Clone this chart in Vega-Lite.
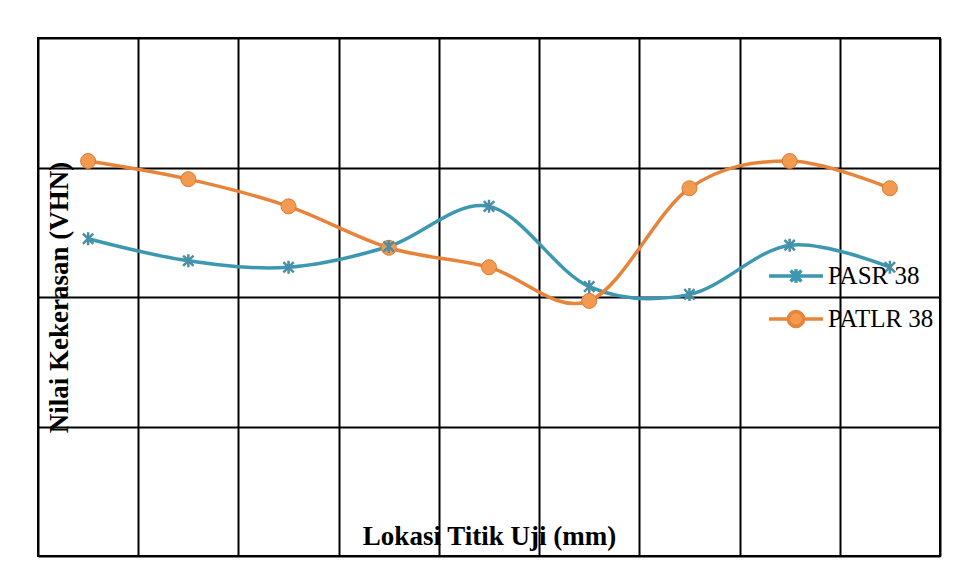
{
  "$schema": "https://vega.github.io/schema/vega-lite/v6.json",
  "width": 902,
  "height": 518,
  "autosize": "none",
  "padding": {"left": 38, "top": 38, "right": 17, "bottom": 25},
  "background": "white",
  "config": {
    "view": {"stroke": "black", "strokeWidth": 2},
    "font": "Liberation Serif"
  },
  "data": {
    "values": [
      {"titik": 1, "series": "PASR 38", "vhn": 2.45},
      {"titik": 2, "series": "PASR 38", "vhn": 2.28},
      {"titik": 3, "series": "PASR 38", "vhn": 2.23},
      {"titik": 4, "series": "PASR 38", "vhn": 2.39},
      {"titik": 5, "series": "PASR 38", "vhn": 2.70},
      {"titik": 6, "series": "PASR 38", "vhn": 2.08},
      {"titik": 7, "series": "PASR 38", "vhn": 2.02},
      {"titik": 8, "series": "PASR 38", "vhn": 2.40},
      {"titik": 9, "series": "PASR 38", "vhn": 2.23},
      {"titik": 1, "series": "PATLR 38", "vhn": 3.05},
      {"titik": 2, "series": "PATLR 38", "vhn": 2.91},
      {"titik": 3, "series": "PATLR 38", "vhn": 2.70},
      {"titik": 4, "series": "PATLR 38", "vhn": 2.38},
      {"titik": 5, "series": "PATLR 38", "vhn": 2.23},
      {"titik": 6, "series": "PATLR 38", "vhn": 1.97},
      {"titik": 7, "series": "PATLR 38", "vhn": 2.84},
      {"titik": 8, "series": "PATLR 38", "vhn": 3.05},
      {"titik": 9, "series": "PATLR 38", "vhn": 2.84}
    ]
  },
  "encoding": {
    "x": {
      "field": "titik", "type": "quantitative",
      "scale": {"domain": [0.5, 9.5], "nice": false, "zero": false},
      "axis": {
        "values": [0.5, 1.5, 2.5, 3.5, 4.5, 5.5, 6.5, 7.5, 8.5, 9.5],
        "labels": false, "ticks": false, "domain": false,
        "grid": true, "gridColor": "black", "gridWidth": 2, "gridOpacity": 1,
        "title": "Lokasi Titik Uji (mm)",
        "titleFont": "Liberation Serif", "titleFontSize": 27, "titleFontWeight": "bold",
        "titleColor": "black", "titleBaseline": "alphabetic", "titleY": -12, "titleAnchor": "middle"
      }
    },
    "y": {
      "field": "vhn", "type": "quantitative",
      "scale": {"domain": [0, 4], "nice": false, "zero": false},
      "axis": {
        "values": [0, 1, 2, 3, 4],
        "labels": false, "ticks": false, "domain": false,
        "grid": true, "gridColor": "black", "gridWidth": 2, "gridOpacity": 1,
        "title": "Nilai Kekerasan (VHN)",
        "titleFont": "Liberation Serif", "titleFontSize": 27, "titleFontWeight": "bold",
        "titleColor": "black", "titleAngle": -90, "titleBaseline": "alphabetic",
        "titleX": 29, "titleY": 259, "titleAlign": "center"
      }
    },
    "color": {
      "field": "series", "type": "nominal",
      "scale": {"domain": ["PASR 38", "PATLR 38"], "range": ["#3C97B0", "#E8843A"]}
    }
  },
  "layer": [
    {
      "mark": {"type": "line", "interpolate": "cardinal", "strokeWidth": 3.5},
      "encoding": {
        "color": {
          "field": "series", "type": "nominal",
          "scale": {"domain": ["PASR 38", "PATLR 38"], "range": ["#3C97B0", "#E8843A"]},
          "legend": {
            "orient": "none", "legendX": 729, "legendY": 209,
            "title": null, "padding": 0,
            "labelFont": "Liberation Serif", "labelFontSize": 25, "labelColor": "black",
            "labelOffset": 3, "symbolSize": 2916, "symbolStrokeWidth": 3.5, "rowPadding": -2,
            "encode": {
              "symbols": {
                "update": {
                  "shape": [
                    {"test": "datum.value === 'PASR 38'", "value": "M-1,0H1M0,-0.25V0.25M-0.2,-0.2L0.2,0.2M-0.2,0.2L0.2,-0.2"},
                    {"value": "M-1,0H-0.28M0.28,0H1M-0.28,0A0.28,0.28 0 1,0 0.28,0A0.28,0.28 0 1,0 -0.28,0"}
                  ],
                  "fill": [
                    {"test": "datum.value === 'PASR 38'", "value": "transparent"},
                    {"value": "#F29A4F"}
                  ],
                  "fillOpacity": {"value": 1},
                  "stroke": [
                    {"test": "datum.value === 'PASR 38'", "value": "#3C97B0"},
                    {"value": "#E8843A"}
                  ],
                  "strokeWidth": {"value": 3.5}
                }
              }
            }
          }
        }
      }
    },
    {
      "transform": [{"filter": "datum.series === 'PATLR 38'"}],
      "mark": {"type": "point", "shape": "circle", "filled": true, "size": 225, "fill": "#F29A4F", "stroke": "#E07A2E", "strokeWidth": 1, "opacity": 1},
      "encoding": {"color": {"value": "#F29A4F"}}
    },
    {
      "transform": [{"filter": "datum.series === 'PASR 38'"}],
      "mark": {"type": "point", "shape": "M0,-1V1M-0.8,-0.8L0.8,0.8M-0.8,0.8L0.8,-0.8", "filled": false, "size": 169, "strokeWidth": 2.5, "opacity": 1},
      "encoding": {"color": {"value": "#4A8FA3"}}
    }
  ]
}
